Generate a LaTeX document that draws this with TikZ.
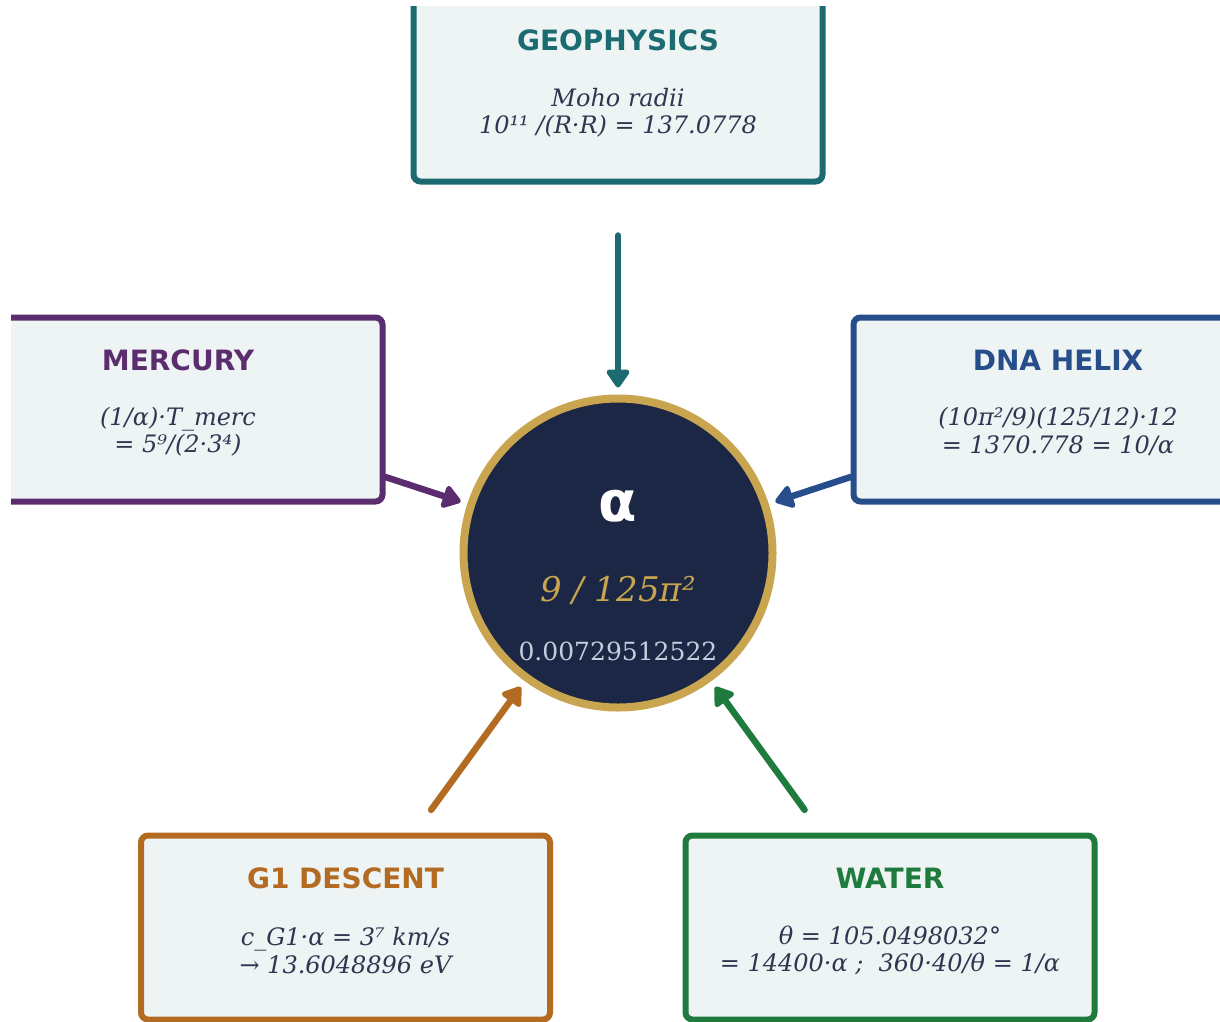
\documentclass[tikz,border=0pt]{standalone}
\usepackage{fontspec}
\setmainfont{DejaVu Serif}
\newfontfamily\headfont{DejaVu Sans}
\usetikzlibrary{positioning,arrows.meta}
\definecolor{geoc}{HTML}{1C6B70}
\definecolor{mercc}{HTML}{5C2D6E}
\definecolor{dnac}{HTML}{264E8A}
\definecolor{gonec}{HTML}{B36B22}
\definecolor{waterc}{HTML}{1F7B3D}
\definecolor{navy}{HTML}{1B2744}
\definecolor{gold}{HTML}{C9A54F}
\definecolor{boxfill}{HTML}{EEF3F4}
\definecolor{bodyc}{HTML}{2E3650}
\definecolor{numc}{HTML}{C5CDDC}

\begin{document}
\begin{tikzpicture}[x=1pt,y=-1pt,on grid,
    box/.style={draw=#1,fill=boxfill,line width=6pt,rounded corners=7pt,
      minimum width=409pt,minimum height=184pt},
    head/.style={text=#1,font=\headfont\bfseries\fontsize{28}{32}\selectfont},
    body/.style={text=bodyc,align=center,font=\itshape\fontsize{24}{27.5}\selectfont},
    feed/.style={draw=#1,line width=6.5pt,line cap=round,
      -{Triangle[length=20pt,width=26pt,round]}}]
  \useasboundingbox (0,0) rectangle (1220,1021);
  \begin{scope}
    \clip (11,6) rectangle (1220,1021);
    \node[circle,fill=navy,draw=gold,line width=8pt,minimum size=309pt] (alpha) at (618,553) {};
    \node[box=geoc]   (geo)   [above=463.5pt of alpha] {};
    \node[box=mercc]  (merc)  [above left=143.5pt and 440pt of alpha] {};
    \node[box=dnac]   (dna)   [above right=143.5pt and 440pt of alpha] {};
    \node[box=gonec]  (g1)    [below left=374.5pt and 272.5pt of alpha] {};
    \node[box=waterc] (water) [below right=374.5pt and 272pt of alpha] {};
  \end{scope}

  % box texts
  \node[head=geoc] at ([yshift=-45.5pt]geo.north) {GEOPHYSICS};
  \node[body] at ([yshift=-118pt]geo.north) {Moho radii\\10¹¹ /(R·R) = 137.0778};
  \node[head=mercc] at ([yshift=-45.5pt]merc.north) {MERCURY};
  \node[body] at ([yshift=-117pt]merc.north) {(1/α)·T\_merc\\= 5⁹/(2·3⁴)};
  \node[head=dnac] at ([yshift=-45.5pt]dna.north) {DNA HELIX};
  \node[body] at ([yshift=-117pt]dna.north) {(10π²/9)(125/12)·12\\= 1370.778 = 10/α};
  \node[head=gonec] at ([yshift=-45.5pt]g1.north) {G1 DESCENT};
  \node[body] at ([yshift=-118pt]g1.north) {c\_G1·α = 3⁷ km/s\\→ 13.6048896 eV};
  \node[head=waterc] at ([yshift=-45.5pt]water.north) {WATER};
  \node[body] at ([yshift=-118pt]water.north) {θ = 105.0498032°\\= 14400·α ;\ \ 360·40/θ = 1/α};

  % centre texts
  \node[text=white,font=\headfont\bfseries\fontsize{56}{60}\selectfont] at ([yshift=47pt]alpha.center) {α};
  \node[text=gold,font=\itshape\fontsize{34}{40}\selectfont] at ([yshift=-37pt]alpha.center) {9 / 125π²};
  \node[text=numc,font=\fontsize{25}{30}\selectfont] at ([yshift=-98pt]alpha.center) {0.00729512522};

  \path (geo)   edge[feed=geoc,shorten <=51pt,shorten >=7pt] (alpha)
        (merc)  edge[feed=mercc,shorten >=7pt] (alpha)
        (dna)   edge[feed=dnac,shorten >=7pt] (alpha)
        (g1)    edge[feed=gonec,shorten <=28pt,shorten >=7pt] (alpha)
        (water) edge[feed=waterc,shorten <=28pt,shorten >=7pt] (alpha);
\end{tikzpicture}
\end{document}
